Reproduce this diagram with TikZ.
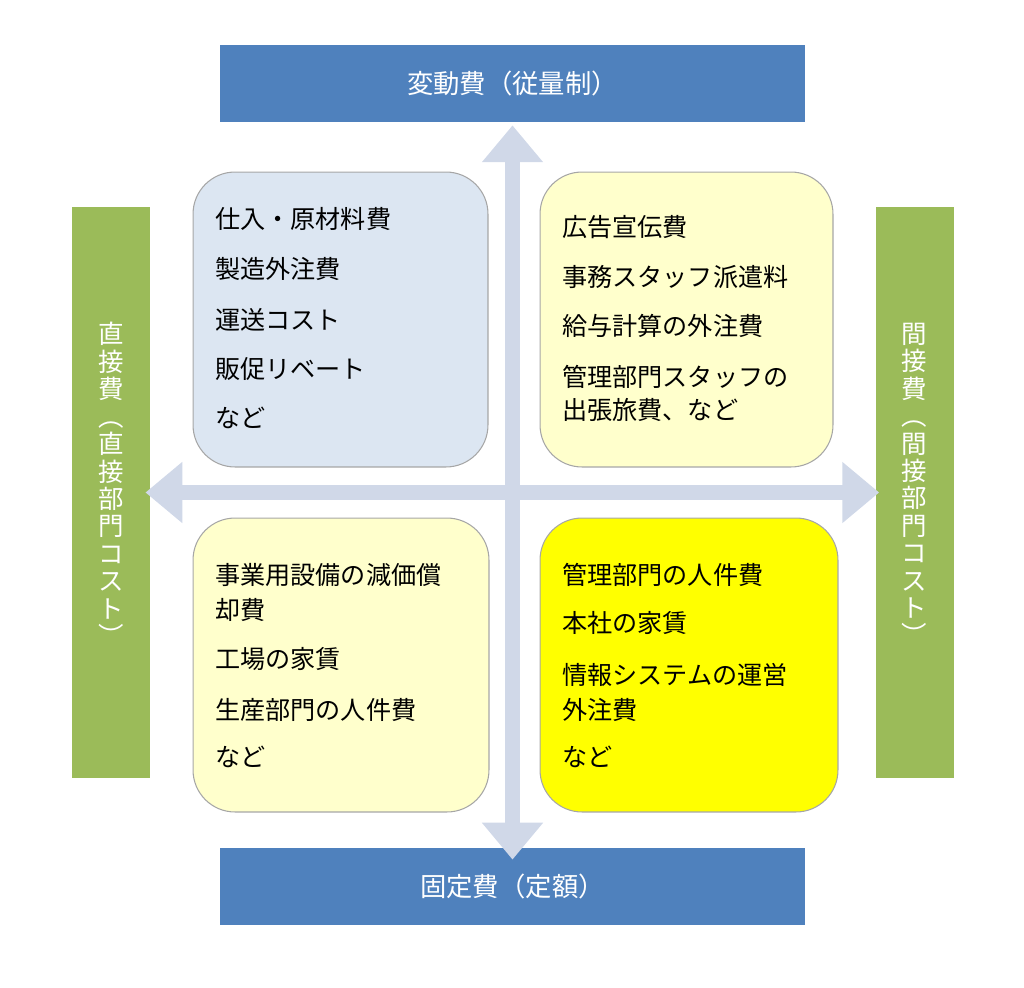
\documentclass[tikz,border=0pt]{standalone}
\usepackage{fontspec}
\setmainfont{Noto Sans CJK JP}
\usetikzlibrary{arrows.meta}
\definecolor{barblue}{HTML}{4F81BD}
\definecolor{bargreen}{HTML}{9BBB59}
\definecolor{arrowgray}{HTML}{D0D8E8}
\definecolor{paleblue}{HTML}{DCE6F2}
\definecolor{paleyellow}{HTML}{FFFFCC}
\definecolor{brightyellow}{HTML}{FFFF00}
\definecolor{boxedge}{HTML}{A6A6A6}

\begin{document}
\begin{tikzpicture}[x=0.02cm,y=-0.02cm,
  bar/.style={fill=#1,draw=none,text=white,inner sep=0pt,
    font=\fontsize{15pt}{15.6pt}\selectfont},
  hbar/.style={bar=barblue,minimum width=11.7cm,minimum height=1.54cm},
  vbar/.style={bar=bargreen,minimum width=1.56cm,minimum height=11.42cm},
  vtext/.style={text=white,align=center,inner sep=0pt,
    font=\fontsize{14.5pt}{15.6pt}\selectfont},
  costbox/.style={fill=#1,draw=boxedge,line width=0.6pt,rounded corners=0.84cm},
  item/.style={anchor=west,inner sep=0pt,font=\fontsize{14.3pt}{17pt}\selectfont},
  bigarrow/.style={draw=arrowgray,line width=8.5pt,
    {Triangle[length=21pt,width=33.5pt]}-{Triangle[length=21pt,width=33.5pt]}}]

% fix the page size
\useasboundingbox (0,0) rectangle (1024,987);

% Add bars
\node[hbar] (var) at (512.5,83.5) {変動費（従量制）};
\node[hbar] (fix) at (512.5,886.5) {固定費（定額）};
\node[vbar] (dir) at (111,492.5) {};
\node[vbar] (ind) at (914.5,492.5) {};
\node[vtext] (dirlabel) at (111,484) {直\\接\\費\\︵\\直\\接\\部\\門\\コ\\ス\\ト\\︶};
\node[vtext] (indlabel) at (914.5,484) {間\\接\\費\\︵\\間\\接\\部\\門\\コ\\ス\\ト\\︶};

% Add axes
\draw[bigarrow,shorten <=1.7pt,shorten >=-6.8pt] (var) -- (fix);
\draw[bigarrow,shorten <=-2.8pt,shorten >=-2.3pt] (dir) -- (ind);

% Draw the four boxes
\node[costbox=paleblue,minimum width=5.9cm,minimum height=5.9cm] (tl) at (340.5,319.5) {};
\node[costbox=paleyellow,minimum width=5.86cm,minimum height=5.9cm] (tr) at (686.5,319.5) {};
\node[costbox=paleyellow,minimum width=5.92cm,minimum height=5.88cm] (bl) at (341,665) {};
\node[costbox=brightyellow,minimum width=5.96cm,minimum height=5.88cm] (br) at (689,665) {};

% Add box texts
\foreach \y/\t [count=\i] in {219/仕入・原材料費,269/製造外注費,320/運送コスト,369/販促リベート,418/など}
  \node[item] (tl\i) at (215,\y) {\t};
\foreach \y/\t [count=\i] in {227/広告宣伝費,277/事務スタッフ派遣料,326/給与計算の外注費,377/管理部門スタッフの,410/出張旅費、など}
  \node[item] (tr\i) at (562,\y) {\t};
\foreach \y/\t [count=\i] in {575/事業用設備の減価償,610/却費,659/工場の家賃,710/生産部門の人件費,757/など}
  \node[item] (bl\i) at (215,\y) {\t};
\foreach \y/\t [count=\i] in {575/管理部門の人件費,623/本社の家賃,675/情報システムの運営,710/外注費,757/など}
  \node[item] (br\i) at (562,\y) {\t};

\end{tikzpicture}
\end{document}
